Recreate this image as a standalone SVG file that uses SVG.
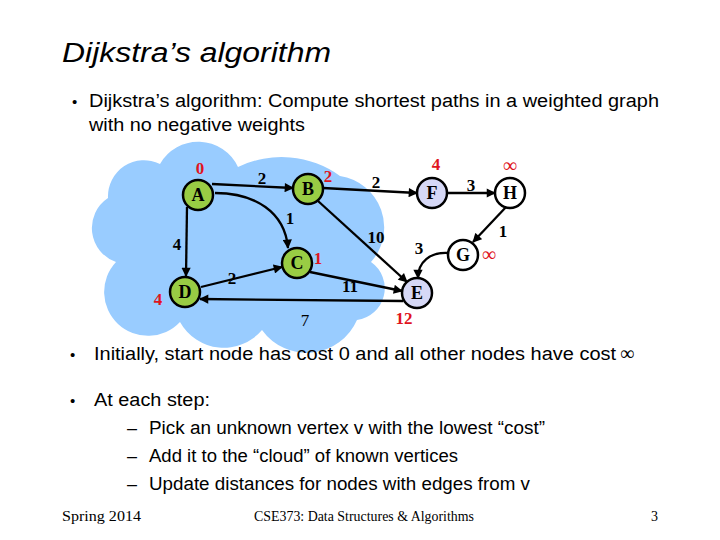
<svg xmlns="http://www.w3.org/2000/svg" width="720" height="540" viewBox="0 0 720 540">
<defs>
<marker id="arr" viewBox="0 0 10 10" refX="9" refY="5" markerWidth="4.5" markerHeight="4" orient="auto" markerUnits="strokeWidth">
<path d="M0,0 L10,5 L0,10 z" fill="#000"/>
</marker>
<style>
.t{font-family:"Liberation Sans",Arial,sans-serif;fill:#000}
.f{font-family:"Liberation Serif","Times New Roman",serif;fill:#000}
.e{stroke:#000;stroke-width:2.3;fill:none;marker-end:url(#arr)}
.n circle{stroke:#000;stroke-width:2.5}
.n text{font-family:"Liberation Serif","Times New Roman",serif;font-weight:bold;font-size:18px;text-anchor:middle;fill:#000}
.g{fill:#99cc44}
.l{fill:#d6d8f6}
.w{fill:#fff}
.lb{font-family:"Liberation Serif","Times New Roman",serif;font-weight:bold;font-size:17px;fill:#000;text-anchor:middle}
.r{font-family:"Liberation Serif","Times New Roman",serif;font-weight:bold;font-size:17px;fill:#e0141e;text-anchor:middle}
.b{font-family:"Liberation Sans",Arial,sans-serif;font-size:15px;fill:#000}
</style>
</defs>
<rect width="720" height="540" fill="#fff"/>
<text class="t" x="62" y="62" font-size="27" font-style="italic" textLength="269" lengthAdjust="spacingAndGlyphs">Dijkstra’s algorithm</text>
<text class="b" x="72" y="107">•</text>
<text class="t" x="89" y="107" font-size="18" textLength="570" lengthAdjust="spacingAndGlyphs">Dijkstra’s algorithm: Compute shortest paths in a weighted graph</text>
<text class="t" x="89" y="131" font-size="18" textLength="216" lengthAdjust="spacingAndGlyphs">with no negative weights</text>

<path id="cloud" d="M108,198 A36,36 0 0 1 160,164 A44,44 0 0 1 238,167 A100,100 0 0 1 340,176 A52,52 0 0 1 371,262 A32,32 0 0 1 357,320 A55,55 0 0 1 262,330 A50,50 0 0 1 180,322 A40,40 0 0 1 116,262 A36,36 0 0 1 108,198 Z" fill="#99ccff"/>

<g id="connectors">
<path class="e" d="M212,184 L293,188"/>
<path class="e" d="M215,193 C255,193 285,212 288,248"/>
<path class="e" d="M187,207 L186,276"/>
<path class="e" d="M201,287 L282,267"/>
<path class="e" d="M310,272 L402,291"/>
<path class="e" d="M318,201 L407,282"/>
<path class="e" d="M403,301 L200,299"/>
<path class="e" d="M323,188 L417,193"/>
<path class="e" d="M447,193 L495,193"/>
<path class="e" d="M507,206 L473,242"/>
<path class="e" d="M448,253 C430,252 418,262 418,278"/>
</g>

<g id="node-A" class="n"><circle class="g" cx="198" cy="195" r="15"/><text x="198" y="201">A</text></g>
<g id="node-B" class="n"><circle class="g" cx="308" cy="189" r="15"/><text x="308" y="195">B</text></g>
<g id="node-C" class="n"><circle class="g" cx="297" cy="263" r="15"/><text x="297" y="269">C</text></g>
<g id="node-D" class="n"><circle class="g" cx="185" cy="292" r="15"/><text x="185" y="298">D</text></g>
<g id="node-E" class="n"><circle class="l" cx="417" cy="293" r="15"/><text x="417" y="299">E</text></g>
<g id="node-F" class="n"><circle class="l" cx="432" cy="193" r="15"/><text x="432" y="199">F</text></g>
<g id="node-H" class="n"><circle class="w" cx="510" cy="193" r="15"/><text x="510" y="199">H</text></g>
<g id="node-G" class="n"><circle class="w" cx="463" cy="255" r="15"/><text x="463" y="261">G</text></g>

<g id="labels">
<text class="r" x="200" y="174">0</text>
<text class="lb" x="262" y="184">2</text>
<text class="r" x="328" y="182">2</text>
<text class="lb" x="376" y="188">2</text>
<text class="r" x="436" y="170">4</text>
<text class="lb" x="471" y="191">3</text>
<text x="510" y="172" font-family="Liberation Serif,serif" font-size="20" fill="#e0141e" text-anchor="middle">∞</text>
<text class="lb" x="290" y="224">1</text>
<text class="lb" x="376" y="243">10</text>
<text class="lb" x="503" y="237">1</text>
<text class="lb" x="177" y="250">4</text>
<text class="lb" x="419" y="254">3</text>
<text class="r" x="318" y="264">1</text>
<text x="489" y="261" font-family="Liberation Serif,serif" font-size="20" fill="#e0141e" text-anchor="middle">∞</text>
<text class="r" x="158" y="305">4</text>
<text class="lb" x="232" y="284">2</text>
<text class="lb" x="350" y="292">11</text>
<text x="305" y="326" font-family="Liberation Serif,serif" font-size="17" fill="#000" text-anchor="middle">7</text>
<text class="r" x="404" y="324">12</text>
</g>

<text class="b" x="70" y="360">•</text>
<text class="t" x="94" y="360" font-size="18" textLength="522" lengthAdjust="spacingAndGlyphs">Initially, start node has cost 0 and all other nodes have cost</text>
<text class="f" x="620" y="360" font-size="20">∞</text>
<text class="b" x="70" y="406">•</text>
<text class="t" x="94" y="406" font-size="18" textLength="116" lengthAdjust="spacingAndGlyphs">At each step:</text>
<text class="t" x="127" y="434" font-size="18">–</text>
<text class="t" x="149" y="434" font-size="18" textLength="396" lengthAdjust="spacingAndGlyphs">Pick an unknown vertex v with the lowest “cost”</text>
<text class="t" x="127" y="462" font-size="18">–</text>
<text class="t" x="149" y="462" font-size="18" textLength="309" lengthAdjust="spacingAndGlyphs">Add it to the “cloud” of known vertices</text>
<text class="t" x="127" y="490" font-size="18">–</text>
<text class="t" x="149" y="490" font-size="18" textLength="381" lengthAdjust="spacingAndGlyphs">Update distances for nodes with edges from v</text>

<text class="f" x="62" y="521" font-size="14" textLength="79" lengthAdjust="spacingAndGlyphs">Spring 2014</text>
<text class="f" x="254" y="521" font-size="14" textLength="220" lengthAdjust="spacingAndGlyphs">CSE373: Data Structures &amp; Algorithms</text>
<text class="f" x="651" y="521" font-size="14">3</text>
</svg>
